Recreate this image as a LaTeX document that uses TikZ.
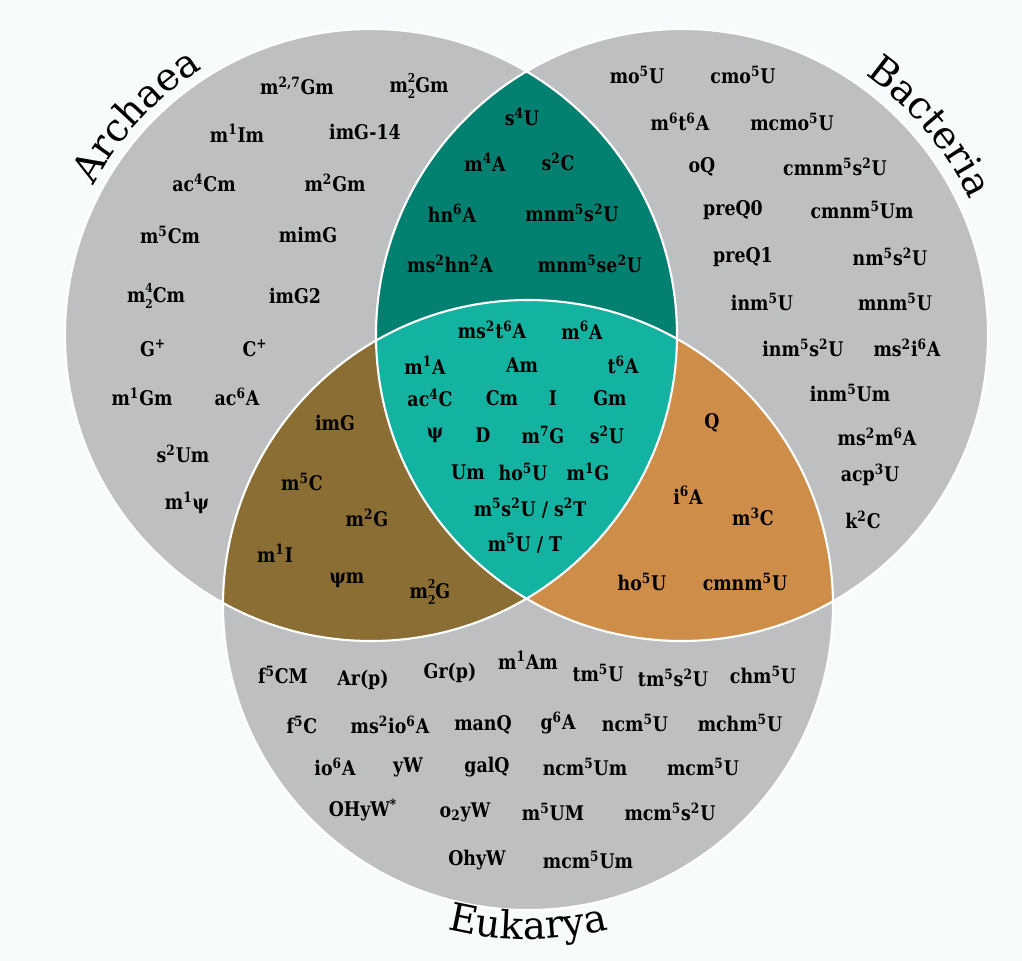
\documentclass[tikz,border=0pt]{standalone}
\usepackage{fontspec}
\setmainfont{DejaVu Serif}
\newfontfamily\modfont{DejaVu Serif}[FakeStretch=0.86]
\usetikzlibrary{decorations.text}
\definecolor{venngray}{RGB}{190,191,193}
\definecolor{darkteal}{RGB}{4,128,112}
\definecolor{lightteal}{RGB}{20,178,160}
\definecolor{mudbrown}{RGB}{139,110,52}
\definecolor{sandorange}{RGB}{206,142,73}
\definecolor{paper}{RGB}{248,251,252}
\newcommand{\su}[1]{\textsuperscript{#1}}
\newcommand{\supsubx}[2]{\rlap{\raisebox{0.95ex}{\scriptsize#1}}\raisebox{-0.55ex}{\scriptsize#2}}
\newcommand{\domfont}{\fontsize{22}{26}\selectfont}

\begin{document}
\begin{tikzpicture}[x=0.02cm,y=-0.02cm,
 modname/.style={font=\modfont\bfseries\fontsize{11.5}{13}\selectfont,inner sep=0pt},
 domlabel/.style={decorate,decoration={text along path,text align=center,text={|\domfont|#1}}}]
\fill[paper] (0,0) rectangle (1022,961);
\useasboundingbox (0,0) rectangle (1022,961);
\coordinate (arch) at (371,335);
\coordinate (bact) at (682,335);
\coordinate (euk) at (528,605);
\fill[venngray] (arch) circle (306) (bact) circle (306) (euk) circle (305);
\begin{scope}
\clip (bact) circle (306);
\fill[sandorange] (euk) circle (305);
\end{scope}
\begin{scope}
\clip (arch) circle (306);
\fill[darkteal] (bact) circle (306);
\fill[mudbrown] (euk) circle (305);
\clip (bact) circle (306);
\fill[lightteal] (euk) circle (305);
\end{scope}
\draw[white,line width=1.2pt] (arch) circle (306) (bact) circle (306) (euk) circle (305);

\path[domlabel=Archaea] (arch) ++(-172:315) arc[start angle=-172,end angle=-102,radius=315];
\path[domlabel=Bacteria] (bact) ++(-76:318) arc[start angle=-76,end angle=-4,radius=318];
\path[domlabel=Eukarya] (euk) ++(115:334) arc[start angle=115,end angle=65,radius=334];

\draw (297,86) node[modname] (ar1) {m\su{2,7}Gm};
\draw (419,86) node[modname] (ar2) {m\supsubx{2}{2}Gm};
\draw (237,133) node[modname] (ar3) {m\su{1}Im};
\draw (365,132) node[modname] (ar4) {imG-14};
\draw (204,183) node[modname] (ar5) {ac\su{4}Cm};
\draw (335,183) node[modname] (ar6) {m\su{2}Gm};
\draw (170,235) node[modname] (ar7) {m\su{5}Cm};
\draw (308,235) node[modname] (ar8) {mimG};
\draw (156,296) node[modname] (ar9) {m\supsubx{4}{2}Cm};
\draw (295,296) node[modname] (ar10) {imG2};
\draw (153,348) node[modname] (ar11) {G\su{+}};
\draw (255,348) node[modname] (ar12) {C\su{+}};
\draw (142,397) node[modname] (ar13) {m\su{1}Gm};
\draw (237,397) node[modname] (ar14) {ac\su{6}A};
\draw (183,454) node[modname] (ar15) {s\su{2}Um};
\draw (187,503) node[modname] (ar16) {m\su{1}ψ};

\draw (522,117) node[modname] (ab1) {s\su{4}U};
\draw (485,162) node[modname] (ab2) {m\su{4}A};
\draw (558,162) node[modname] (ab3) {s\su{2}C};
\draw (452,213) node[modname] (ab4) {hn\su{6}A};
\draw (572,213) node[modname] (ab5) {mnm\su{5}s\su{2}U};
\draw (450,264) node[modname] (ab6) {ms\su{2}hn\su{2}A};
\draw (590,264) node[modname] (ab7) {mnm\su{5}se\su{2}U};

\draw (492,330) node[modname] (c1) {ms\su{2}t\su{6}A};
\draw (582,330) node[modname] (c2) {m\su{6}A};
\draw (425,365) node[modname] (c3) {m\su{1}A};
\draw (522,365) node[modname] (c4) {Am};
\draw (623,365) node[modname] (c5) {t\su{6}A};
\draw (430,398) node[modname] (c6) {ac\su{4}C};
\draw (502,398) node[modname] (c7) {Cm};
\draw (553,398) node[modname] (c8) {I};
\draw (610,398) node[modname] (c9) {Gm};
\draw (435,435) node[modname] (c10) {ψ};
\draw (483,435) node[modname] (c11) {D};
\draw (543,435) node[modname] (c12) {m\su{7}G};
\draw (607,435) node[modname] (c13) {s\su{2}U};
\draw (468,472) node[modname] (c14) {Um};
\draw (523,472) node[modname] (c15) {ho\su{5}U};
\draw (588,472) node[modname] (c16) {m\su{1}G};
\draw (530,508) node[modname] (c17) {m\su{5}s\su{2}U / s\su{2}T};
\draw (525,543) node[modname] (c18) {m\su{5}U / T};

\draw (637,75) node[modname] (b1) {mo\su{5}U};
\draw (743,75) node[modname] (b2) {cmo\su{5}U};
\draw (680,122) node[modname] (b3) {m\su{6}t\su{6}A};
\draw (792,122) node[modname] (b4) {mcmo\su{5}U};
\draw (702,167) node[modname] (b5) {oQ};
\draw (835,167) node[modname] (b6) {cmnm\su{5}s\su{2}U};
\draw (733,210) node[modname] (b7) {preQ0};
\draw (862,210) node[modname] (b8) {cmnm\su{5}Um};
\draw (743,257) node[modname] (b9) {preQ1};
\draw (890,257) node[modname] (b10) {nm\su{5}s\su{2}U};
\draw (762,302) node[modname] (b11) {inm\su{5}U};
\draw (895,302) node[modname] (b12) {mnm\su{5}U};
\draw (803,348) node[modname] (b13) {inm\su{5}s\su{2}U};
\draw (907,348) node[modname] (b14) {ms\su{2}i\su{6}A};
\draw (850,393) node[modname] (b15) {inm\su{5}Um};
\draw (877,437) node[modname] (b16) {ms\su{2}m\su{6}A};
\draw (870,475) node[modname] (b17) {acp\su{3}U};
\draw (863,520) node[modname] (b18) {k\su{2}C};

\draw (335,423) node[modname] (ae1) {imG};
\draw (302,482) node[modname] (ae2) {m\su{5}C};
\draw (367,518) node[modname] (ae3) {m\su{2}G};
\draw (275,553) node[modname] (ae4) {m\su{1}I};
\draw (347,580) node[modname] (ae5) {ψm};
\draw (430,592) node[modname] (ae6) {m\supsubx{2}{2}G};

\draw (712,423) node[modname] (be1) {Q};
\draw (688,495) node[modname] (be2) {i\su{6}A};
\draw (753,517) node[modname] (be3) {m\su{3}C};
\draw (642,582) node[modname] (be4) {ho\su{5}U};
\draw (745,582) node[modname] (be5) {cmnm\su{5}U};

\draw (283,675) node[modname] (e1) {f\su{5}CM};
\draw (363,680) node[modname] (e2) {Ar(p)};
\draw (450,673) node[modname] (e3) {Gr(p)};
\draw (528,660) node[modname] (e4) {m\su{1}Am};
\draw (598,673) node[modname] (e5) {tm\su{5}U};
\draw (673,678) node[modname] (e6) {tm\su{5}s\su{2}U};
\draw (763,675) node[modname] (e7) {chm\su{5}U};
\draw (302,725) node[modname] (e8) {f\su{5}C};
\draw (390,725) node[modname] (e9) {ms\su{2}io\su{6}A};
\draw (483,725) node[modname] (e10) {manQ};
\draw (558,723) node[modname] (e11) {g\su{6}A};
\draw (635,723) node[modname] (e12) {ncm\su{5}U};
\draw (740,723) node[modname] (e13) {mchm\su{5}U};
\draw (335,767) node[modname] (e14) {io\su{6}A};
\draw (408,767) node[modname] (e15) {yW};
\draw (487,767) node[modname] (e16) {galQ};
\draw (585,767) node[modname] (e17) {ncm\su{5}Um};
\draw (703,767) node[modname] (e18) {mcm\su{5}U};
\draw (363,810) node[modname] (e19) {OHyW\su{*}};
\draw (465,812) node[modname] (e20) {o\textsubscript{2}yW};
\draw (553,812) node[modname] (e21) {m\su{5}UM};
\draw (670,812) node[modname] (e22) {mcm\su{5}s\su{2}U};
\draw (477,860) node[modname] (e23) {OhyW};
\draw (588,860) node[modname] (e24) {mcm\su{5}Um};
\end{tikzpicture}
\end{document}
